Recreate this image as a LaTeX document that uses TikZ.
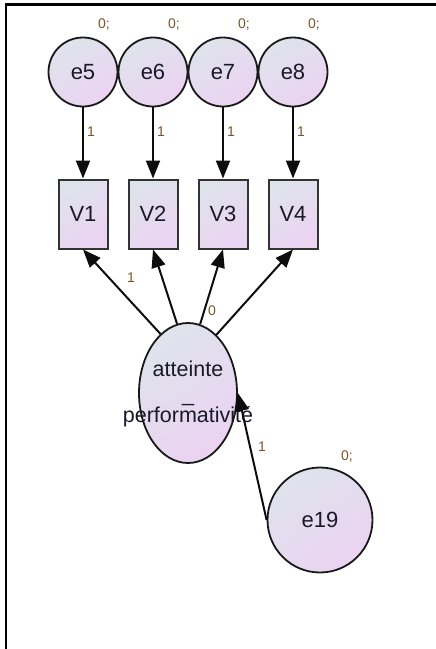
\documentclass[tikz,border=0pt]{standalone}
\usepackage{fontspec}
\setmainfont{Liberation Sans}
\usetikzlibrary{shapes.geometric,arrows.meta}
\definecolor{gtop}{HTML}{DFE3EC}
\definecolor{gbot}{HTML}{EBD3F2}
\definecolor{lbl}{HTML}{7A5528}
\definecolor{txt}{HTML}{1A1A26}
\tikzset{
  shadefill/.style={top color=gtop, bottom color=gbot, shading angle=35},
  errc/.style={circle, draw=black!90, line width=1.8pt, shadefill, minimum size=69pt, inner sep=0pt, font=\fontsize{22}{24}\selectfont, text=txt},
  obsv/.style={rectangle, draw=black!80, line width=2pt, shadefill, minimum width=49pt, minimum height=69pt, inner sep=0pt, font=\fontsize{22}{24}\selectfont, text=txt},
  latv/.style={ellipse, draw=black!90, line width=1.8pt, shadefill, minimum width=98pt, minimum height=140pt, inner sep=0pt},
  parlbl/.style={font=\fontsize{14}{16}\selectfont, text=lbl, inner sep=0pt},
  pth/.style={line width=2pt, draw=black!95, -{Triangle[length=18pt,width=14pt]}},
}
\begin{document}
\begin{tikzpicture}[x=1pt,y=-1pt]
\useasboundingbox (0,0) rectangle (436,649);
\draw[line width=2.6pt] (6,649) -- (6,4.5) -- (436,4.5);
% error circles
\node[errc] (e5) at (83,72) {e5};
\node[errc] (e6) at (153,72) {e6};
\node[errc] (e7) at (223,72) {e7};
\node[errc] (e8) at (293,72) {e8};
% observed
\node[obsv] (V1) at (83,214) {V1};
\node[obsv] (V2) at (153,214) {V2};
\node[obsv] (V3) at (223,214) {V3};
\node[obsv] (V4) at (293,214) {V4};
% latent
\node[latv] (lat) at (188,393) {};
\node[font=\fontsize{21.5}{25}\selectfont, text=txt, align=center, inner sep=0pt] (lattxt) at (188,394) {atteinte\\[0pt]\_\\[-4pt]performativité};
\node[errc, minimum size=105pt] (e19) at (320,520) {e19};
% paths
\draw[pth] (e5) -- (V1);
\draw[pth] (e6) -- (V2);
\draw[pth] (e7) -- (V3);
\draw[pth] (e8) -- (V4);
\draw[pth] (lat.115) -- (V1.south);
\draw[pth] (lat.99) -- (V2.south);
\draw[pth] (lat.80) -- (V3.south);
\draw[pth] (lat.64) -- (V4.south);
\draw[pth] (e19.west) -- (lat.east);
% labels
\node[parlbl] (z5) at (104,25) {0;};
\node[parlbl] (z6) at (174,25) {0;};
\node[parlbl] (z7) at (244,25) {0;};
\node[parlbl] (z8) at (314,25) {0;};
\node[parlbl] (o5) at (91,132) {1};
\node[parlbl] (o6) at (161,132) {1};
\node[parlbl] (o7) at (231,132) {1};
\node[parlbl] (o8) at (301,132) {1};
\node[parlbl] (l1) at (131,278) {1};
\node[parlbl] (l3) at (212,311) {0};
\node[parlbl] (z19) at (347,457) {0;};
\node[parlbl] (o19) at (262,447) {1};
\end{tikzpicture}
\end{document}
